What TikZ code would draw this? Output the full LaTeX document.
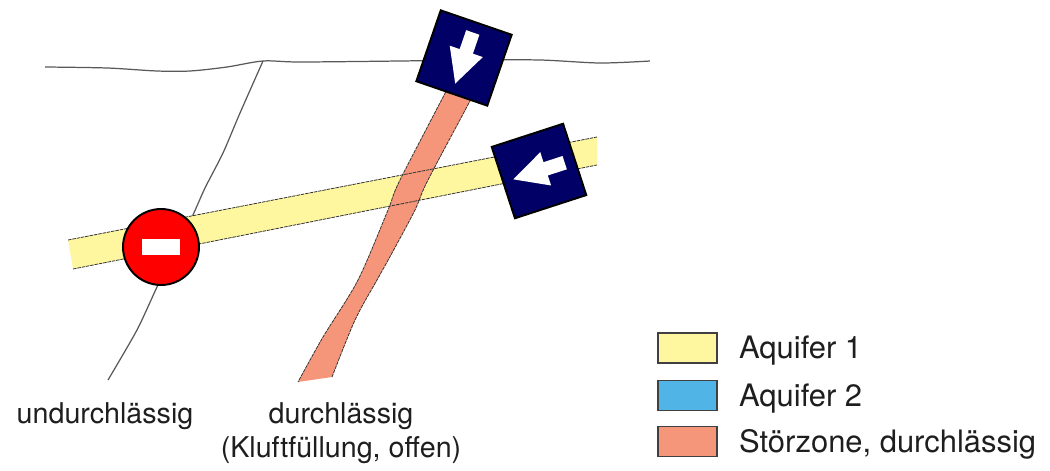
\documentclass[tikz,border=0pt]{standalone}
\usepackage{fontspec}
\setmainfont{TeX Gyre Heros}
\usetikzlibrary{positioning}

\definecolor{aquiferA}{RGB}{255,247,160}
\definecolor{aquiferB}{RGB}{80,180,230}
\definecolor{stoerzone}{RGB}{245,150,122}
\definecolor{signblue}{RGB}{0,0,102}
\definecolor{signred}{RGB}{255,0,0}
\definecolor{txt}{RGB}{30,30,30}

\tikzset{
	crack/.style={draw=black!65, line width=0.7pt},
	rim/.style={draw=black!80, line width=0.45pt, dash pattern=on 2pt off 0.5pt},
	stopsign/.style={circle, draw=black, line width=1.1pt, fill=signred, minimum size=1.52cm, inner sep=0pt},
	swatch/.style={draw=black!75, line width=0.8pt, minimum width=1.18cm, minimum height=0.6cm, inner sep=0pt},
	legtext/.style={font=\fontsize{17.6}{21}\selectfont, text=txt, inner sep=0pt, text height=12pt, text depth=0pt},
	remark/.style={font=\fontsize{16.3}{20}\selectfont, text=txt, inner sep=0pt},
	flowsign/.pic={
		\filldraw[fill=signblue, draw=black, line width=1.1pt] (-37.5,-37.5) rectangle (37.5,37.5);
		\fill[white] (-7,-27) -- (7,-27) -- (7,-7) -- (17.5,-7) -- (0,27) -- (-17.5,-7) -- (-7,-7) -- cycle;
	}
}

\begin{document}
\begin{tikzpicture}[x=0.02cm, y=-0.02cm]
	\useasboundingbox (0,0) rectangle (1050,470);

	% Lines:
	\draw[crack] plot[smooth] coordinates {(45,67) (107,68) (157,71) (190,71) (227,67) (263,61) (300,62) (400,61) (470,60) (540,60) (600,63) (650,61)};
	\draw[crack] plot[smooth, tension=0.4] coordinates {(263,61) (240,113) (223,153) (205,188) (192,217) (175,250) (157,287) (137,330) (108,380)};

	% Layers:
	\fill[aquiferA] (68,240) -- (597,137) -- (597,165) -- (73,269) -- cycle;
	\fill[stoerzone] plot[smooth, tension=0.5] coordinates {(452,80) (400,180) (388,210) (358,280) (323,337) (298,382)}
		-- plot[smooth, tension=0.5] coordinates {(332,377) (355,320) (377,280) (392,253) (415,210) (428,180) (477,88)} -- cycle;
	\draw[rim] (68,240) -- (597,137);
	\draw[rim] (73,269) -- (597,165);
	\draw[rim] plot[smooth, tension=0.5] coordinates {(452,80) (400,180) (388,210) (358,280) (323,337) (298,382)};
	\draw[rim] plot[smooth, tension=0.5] coordinates {(332,377) (355,320) (377,280) (392,253) (415,210) (428,180) (477,88)};

	% Symbols:
	\node[stopsign] (stop) at (161,247) {};
	\fill[white] (142,239) rectangle (180,255);
	\pic[rotate=-19] (down) at (464,58) {flowsign};
	\pic[rotate=-72] (left) at (539,171) {flowsign};

	% Legend:
	\node[swatch, fill=aquiferA] (leg1) at (687.5,348) {};
	\node[swatch, fill=aquiferB] (leg2) at (687.5,395.5) {};
	\node[swatch, fill=stoerzone] (leg3) at (687.5,441.5) {};
	\node[legtext, right=0.42cm of leg1] (legtext1) {Aquifer 1};
	\node[legtext, right=0.42cm of leg2] (legtext2) {Aquifer 2};
	\node[legtext, right=0.42cm of leg3] (legtext3) {Störzone, durchlässig};

	% Labels:
	\node[remark, anchor=base] (undurch) at (105,423) {undurchlässig};
	\node[remark, anchor=base] (durch) at (341,423) {durchlässig};
	\node[remark, below=0.68cm of durch.base, anchor=base] (kluft) {(Kluftfüllung, offen)};

\end{tikzpicture}
\end{document}
